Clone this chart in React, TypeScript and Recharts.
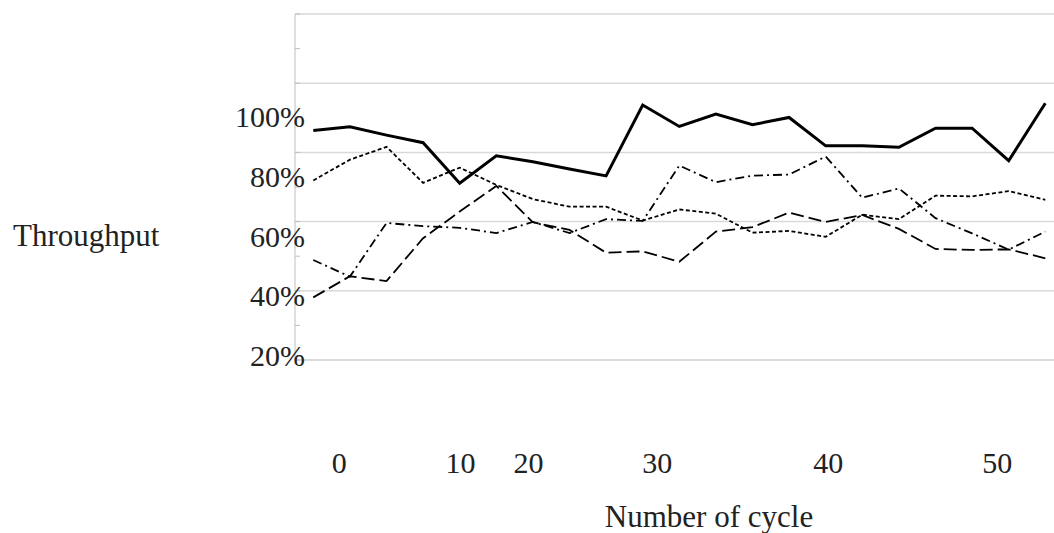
import { LineChart, Line, XAxis, YAxis, CartesianGrid } from 'recharts'

// cycle index of every measured point (21 samples, evenly spaced)
const CYCLE_INDEX = [0, 1, 2, 3, 4, 5, 6, 7, 8, 9, 10, 11, 12, 13, 14, 15, 16, 17, 18, 19, 20]

// throughput values, read against the gridlines (20 % per gridline)
const SOLID = [86.3, 87.4, 85.0, 82.8, 71.1, 79.0, 77.3, 75.2, 73.2, 93.7, 87.5, 91.1, 88.0, 90.1, 81.9, 81.9, 81.5, 87.0, 87.0, 77.6, 94.2]
const SHORT_DASH = [71.9, 77.9, 81.6, 71.2, 75.6, 70.6, 66.5, 64.3, 64.3, 60.3, 63.5, 62.3, 56.8, 57.3, 55.6, 62.0, 60.7, 67.5, 67.3, 68.8, 66.3]
const LONG_DASH = [38.1, 44.2, 42.8, 55.2, 62.9, 70.3, 59.8, 57.6, 51.0, 51.4, 48.4, 57.1, 58.4, 62.6, 59.9, 61.9, 57.9, 52.1, 51.8, 52.0, 49.4]
const DASH_DOT = [48.9, 44.1, 59.6, 58.7, 58.2, 56.7, 59.9, 56.7, 60.7, 60.2, 76.2, 71.4, 73.3, 73.6, 78.8, 66.9, 69.6, 61.0, 56.6, 51.9, 57.1]

// axis ticks
const GRID_TICKS = [20, 40, 60, 80, 100, 120]
const MINOR_TICKS = [20, 30, 40, 50, 60, 70, 80, 90, 100, 110, 120]
const Y_LABEL_TICKS = [20, 40, 60, 80, 100]
// the printed cycle labels sit between samples, at these index positions
const X_LABELS = ['0', '10', '20', '30', '40', '50']
const X_LABEL_AT = [0.71, 4.02, 5.88, 9.4, 14.07, 18.69]

const FONT = "'Liberation Serif', 'Times New Roman', serif"
const INK = '#222'
const GRID = '#d9d9d9'
const AXIS = '#bfbfbf'

const data = CYCLE_INDEX.map((idx, i) => ({
  idx,
  solid: SOLID[i],
  shortDash: SHORT_DASH[i],
  longDash: LONG_DASH[i],
  dashDot: DASH_DOT[i],
}))

const EmptyTick = () => <g />

export default function App() {
  return (
    <div style={{ position: 'fixed', left: 0, top: 0, width: 1054, height: 533, overflow: 'hidden', background: '#fff' }}>
      <LineChart width={1080} height={533} data={data} margin={{ top: 14, right: 16.4, left: 295, bottom: 0 }}>
        <CartesianGrid yAxisId="v" vertical={false} stroke={GRID} strokeWidth={1.5} />
        <XAxis
          dataKey="idx"
          type="number"
          domain={[-0.5, 20.5]}
          allowDataOverflow
          ticks={X_LABEL_AT}
          interval={0}
          tickFormatter={(v: number) => X_LABELS[X_LABEL_AT.indexOf(v)]}
          height={173}
          tickLine={false}
          tickSize={0}
          tickMargin={91.7}
          axisLine={{ stroke: GRID, strokeWidth: 1.5 }}
          tick={{ fontSize: 30, fill: INK, fontFamily: FONT }}
        />
        <YAxis yAxisId="v" hide domain={[20, 120]} ticks={GRID_TICKS} allowDataOverflow />
        <YAxis
          yAxisId="minor"
          domain={[20, 120]}
          ticks={MINOR_TICKS}
          allowDataOverflow
          width={0.001}
          mirror
          tickSize={5}
          tickLine={{ stroke: AXIS }}
          axisLine={{ stroke: AXIS }}
          tick={EmptyTick}
        />
        <YAxis
          yAxisId="lbl"
          domain={[18.46, 134.28]}
          ticks={Y_LABEL_TICKS}
          allowDataOverflow
          width={0.001}
          axisLine={false}
          tickLine={false}
          tickSize={0}
          tickMargin={-10}
          interval={0}
          tickFormatter={(v: number) => `${v}%`}
          tick={{ fontSize: 30, fill: INK, fontFamily: FONT }}
        />
        <Line yAxisId="v" dataKey="solid" stroke="#000" strokeWidth={3} dot={false} isAnimationActive={false} />
        <Line yAxisId="v" dataKey="shortDash" stroke="#000" strokeWidth={1.8} strokeDasharray="4 2.5" dot={false} isAnimationActive={false} />
        <Line yAxisId="v" dataKey="longDash" stroke="#000" strokeWidth={1.8} strokeDasharray="13 5" dot={false} isAnimationActive={false} />
        <Line yAxisId="v" dataKey="dashDot" stroke="#000" strokeWidth={1.8} strokeDasharray="9 4 2 4" dot={false} isAnimationActive={false} />
        <text x={13} y={246} fontSize={31} fill={INK} fontFamily={FONT}>Throughput</text>
        <text x={709} y={527} fontSize={31} fill={INK} fontFamily={FONT} textAnchor="middle">Number of cycle</text>
      </LineChart>
    </div>
  )
}
